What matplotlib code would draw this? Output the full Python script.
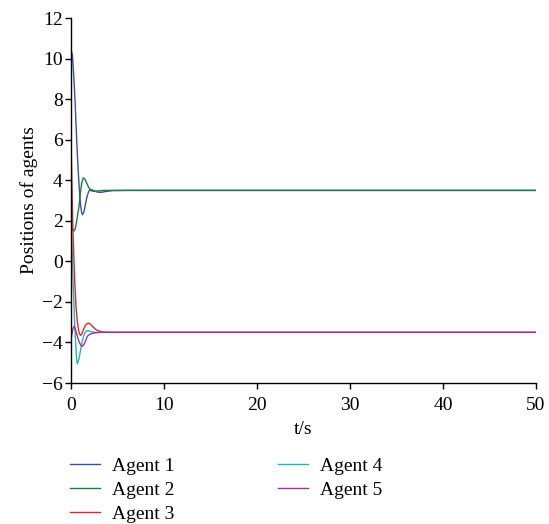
import matplotlib
matplotlib.use("Agg")
import matplotlib.pyplot as plt

# Agent trajectories (time in s, position)
t1 = [0, 0.05, 0.15, 0.25, 0.35, 0.45, 0.55, 0.65, 0.75, 0.85, 0.95, 1.05, 1.15, 1.25,
      1.4, 1.55, 1.7, 1.9, 2.1, 2.4, 2.8, 3.2, 3.8, 4.5, 6, 50]
x1 = [10.2, 10.35, 10.2, 9.5, 8.7, 7.8, 6.7, 5.6, 4.7, 3.9, 3.2, 2.7, 2.4, 2.3,
      2.45, 2.8, 3.15, 3.45, 3.55, 3.5, 3.42, 3.4, 3.45, 3.49, 3.5, 3.5]

t2 = [0, 0.1, 0.2, 0.32, 0.45, 0.6, 0.75, 0.86, 1.0, 1.15, 1.32, 1.5, 1.7, 1.9, 2.1,
      2.4, 2.8, 3.5, 50]
x2 = [2.0, 1.7, 1.55, 1.5, 1.6, 1.95, 2.4, 2.7, 3.35, 3.85, 4.12, 4.05, 3.85, 3.65, 3.5,
      3.45, 3.47, 3.5, 3.5]

t3 = [0, 0.08, 0.18, 0.3, 0.43, 0.55, 0.68, 0.8, 0.92, 1.04, 1.2, 1.4, 1.6, 1.86, 2.1,
      2.4, 2.8, 3.3, 4, 50]
x3 = [6.0, 4.2, 2.0, 0.3, -1.28, -2.3, -2.95, -3.35, -3.58, -3.65, -3.55, -3.3, -3.12,
      -3.04, -3.1, -3.25, -3.4, -3.47, -3.5, -3.5]

t4 = [0, 0.08, 0.16, 0.24, 0.32, 0.42, 0.52, 0.6, 0.68, 0.78, 0.9, 1.04, 1.2, 1.35, 1.5,
      1.7, 1.9, 2.2, 2.6, 3.2, 50]
x4 = [2.0, 1.2, 0.0, -1.2, -2.2, -3.3, -4.2, -4.8, -5.05, -4.95, -4.7, -4.35, -3.95, -3.7,
      -3.52, -3.42, -3.42, -3.47, -3.5, -3.5, -3.5]

t5 = [0, 0.1, 0.2, 0.32, 0.45, 0.6, 0.75, 0.9, 1.05, 1.22, 1.4, 1.6, 1.75, 2.0, 2.3, 2.7,
      3.2, 50]
x5 = [-3.8, -3.6, -3.35, -3.2, -3.3, -3.55, -3.8, -4.0, -4.13, -4.19, -4.1, -3.88, -3.7,
      -3.6, -3.55, -3.52, -3.5, -3.5]

labels = ["Agent 1", "Agent 2", "Agent 3", "Agent 4", "Agent 5"]
colors = ["#3a4fa6", "#16813f", "#e8222b", "#22b6b8", "#9c3597"]
series = [(t1, x1), (t2, x2), (t3, x3), (t4, x4), (t5, x5)]

xticks = [0, 10, 20, 30, 40, 50]
yticks = [-6, -4, -2, 0, 2, 4, 6, 8, 10, 12]

plt.rcParams["font.family"] = ["Liberation Serif", "DejaVu Serif"]
plt.rcParams["axes.unicode_minus"] = True

FS = 14

fig = plt.figure(figsize=(5.49, 5.24), dpi=100)
ax = fig.add_axes([0.1293, 0.269, 0.8470, 0.6966])

for (t, x), lab, c in zip(series, labels, colors):
    ax.plot(t, x, color=c, lw=1.0, label=lab)

ax.set_xlim(0, 50)
ax.set_ylim(-6, 12)
ax.set_xticks(xticks)
ax.set_yticks(yticks)
ax.spines["top"].set_visible(False)
ax.spines["right"].set_visible(False)
for s in ("left", "bottom"):
    ax.spines[s].set_linewidth(1.0)
ax.tick_params(direction="out", length=4, width=1.0, labelsize=FS)
ax.tick_params(axis="x", pad=6)
ax.tick_params(axis="y", pad=2)
ax.set_xlabel("t/s", fontsize=FS, labelpad=5)
ax.set_ylabel("Positions of agents", fontsize=FS, labelpad=3)

handles, labs = ax.get_legend_handles_labels()
fig.legend(handles, labs, ncol=2, loc="upper left", bbox_to_anchor=(0.1275, 0.127),
           frameon=False, fontsize=FS, handlelength=1.55, handletextpad=0.6,
           columnspacing=5.35, labelspacing=0.33, borderaxespad=0, borderpad=0)

fig.savefig("out.png", dpi=100)
